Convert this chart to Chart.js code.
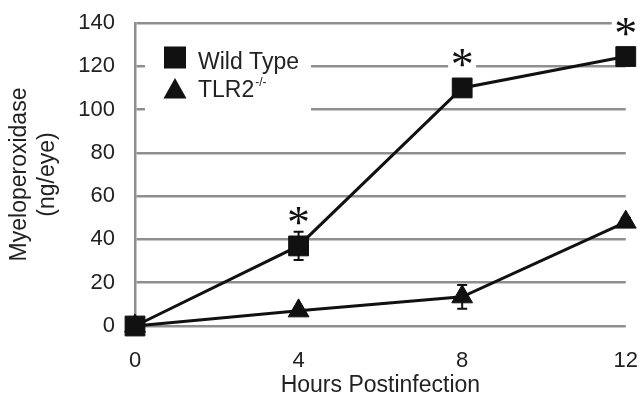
<!DOCTYPE html>
<html>
<head>
<meta charset="utf-8">
<script src="https://cdn.jsdelivr.net/npm/chart.js@4/dist/chart.umd.min.js"></script>
<style>
  html, body { margin: 0; padding: 0; background: #fff; }
  #wrap { width: 640px; height: 400px; position: relative; }
</style>
</head>
<body>
<div id="wrap"><canvas id="c" width="640" height="400"></canvas></div>
<script>
// ---- data ----
const hours = [0, 4, 8, 12];
const wildType = [0, 37, 110, 124.5];
const wildTypeErr = [1, 6.5, 2, 2];
const tlr2 = [0, 7, 13.5, 48];
const tlr2Err = [1, 1, 5.5, 2];
const significant = [false, true, true, true];
const seriesLabels = ['Wild Type', 'TLR2'];
const tlr2Superscript = '-/-';
const yTitle = ['Myeloperoxidase', '(ng/eye)'];
const xTitle = 'Hours Postinfection';

const GRID = '#8f8f8f';
const INK = '#111111';
const TEXT = '#222222';
const CLEAR = 'rgba(0,0,0,0)';
const FONT = "'Liberation Sans', Arial, sans-serif";

const errorBars = {
  id: 'errorBars',
  beforeDatasetsDraw(chart) {
    const {ctx, scales: {x, y}} = chart;
    const sets = [[wildType, wildTypeErr], [tlr2, tlr2Err]];
    ctx.save();
    ctx.strokeStyle = INK;
    ctx.lineWidth = 2;
    sets.forEach(([vals, errs]) => {
      vals.forEach((v, i) => {
        const px = x.getPixelForValue(hours[i]);
        const top = y.getPixelForValue(v + errs[i]);
        const bot = y.getPixelForValue(Math.max(0, v - errs[i]));
        ctx.beginPath();
        ctx.moveTo(px, top); ctx.lineTo(px, bot);
        ctx.moveTo(px - 5, top); ctx.lineTo(px + 5, top);
        ctx.moveTo(px - 5, bot); ctx.lineTo(px + 5, bot);
        ctx.stroke();
      });
    });
    ctx.restore();
  }
};

const annotations = {
  id: 'annotations',
  afterDraw(chart) {
    const {ctx, scales: {x, y}} = chart;
    ctx.save();
    // asterisks
    const serif = "'Liberation Serif', 'Times New Roman', serif";
    ctx.font = '100px ' + serif;
    const m = ctx.measureText('*');
    const h100 = m.actualBoundingBoxAscent + m.actualBoundingBoxDescent;
    const fs = 100 * 17 / h100;
    ctx.font = fs + 'px ' + serif;
    const mm = ctx.measureText('*');
    significant.forEach((s, i) => {
      if (!s) return;
      const px = x.getPixelForValue(hours[i]);
      const py = y.getPixelForValue(wildType[i]) - 30;
      ctx.fillStyle = '#fff';
      ctx.fillRect(px - 14, py - 13, 28, 26);
      ctx.fillStyle = INK;
      ctx.textAlign = 'center';
      ctx.textBaseline = 'alphabetic';
      const baseY = py + (mm.actualBoundingBoxAscent - mm.actualBoundingBoxDescent) / 2;
      ctx.fillText('*', px, baseY);
    });

    // legend
    ctx.fillStyle = '#fff';
    ctx.fillRect(145, 32, 166, 88);
    ctx.fillStyle = INK;
    ctx.fillRect(164, 46.5, 22, 22);
    ctx.beginPath();
    ctx.moveTo(175, 78);
    ctx.lineTo(163.5, 98.5);
    ctx.lineTo(186.5, 98.5);
    ctx.closePath();
    ctx.fill();
    ctx.fillStyle = TEXT;
    ctx.textAlign = 'left';
    ctx.textBaseline = 'alphabetic';
    ctx.font = '23px ' + FONT;
    ctx.fillText(seriesLabels[0], 198, 68.5);
    ctx.fillText(seriesLabels[1], 198, 97);
    const w = ctx.measureText(seriesLabels[1]).width;
    ctx.font = '12px ' + FONT;
    ctx.fillText(tlr2Superscript, 198 + w + 1, 86);
    ctx.restore();
  }
};

const toXY = (vals) => vals.map((v, i) => ({x: hours[i], y: v}));

new Chart(document.getElementById('c'), {
  type: 'line',
  data: {
    datasets: [
      {
        label: seriesLabels[0],
        data: toXY(wildType),
        borderColor: INK,
        backgroundColor: INK,
        borderWidth: 3,
        pointStyle: 'rect',
        pointRadius: 14,
        pointBorderWidth: 1,
        pointBackgroundColor: INK,
        pointBorderColor: INK,
        tension: 0,
        clip: false
      },
      {
        label: seriesLabels[1] + tlr2Superscript,
        data: toXY(tlr2),
        borderColor: INK,
        backgroundColor: INK,
        borderWidth: 3,
        pointStyle: 'triangle',
        pointRadius: 12,
        pointBorderWidth: 1,
        pointBackgroundColor: INK,
        pointBorderColor: INK,
        tension: 0,
        clip: false
      }
    ]
  },
  options: {
    responsive: false,
    animation: false,
    layout: { autoPadding: false, padding: { top: 23, right: 13, left: 0, bottom: 0 } },
    plugins: { legend: { display: false }, tooltip: { enabled: false } },
    scales: {
      x: {
        type: 'linear',
        min: 0, max: 12,
        ticks: { stepSize: 4, color: TEXT, font: { family: FONT, size: 22 }, padding: 2 },
        grid: { display: true, drawOnChartArea: false, drawTicks: true, tickLength: 20, color: CLEAR, tickColor: CLEAR },
        border: { display: false },
        title: { display: true, text: xTitle, color: TEXT, font: { family: FONT, size: 23 }, padding: { top: 0, bottom: 1 } },
        afterFit(s) { s.height = 74; }
      },
      y: {
        min: 0, max: 140,
        ticks: { stepSize: 20, color: TEXT, font: { family: FONT, size: 22 }, padding: 2 },
        grid: { color: GRID, lineWidth: 2.5, drawTicks: true, tickLength: 18, tickColor: CLEAR },
        border: { display: true, color: GRID, width: 2.5 },
        title: { display: true, text: yTitle, color: TEXT, font: { family: FONT, size: 23, lineHeight: 1.2 }, padding: { top: 6, bottom: 0 } },
        afterFit(s) { s.width = 135; }
      }
    }
  },
  plugins: [errorBars, annotations]
});
</script>
</body>
</html>
